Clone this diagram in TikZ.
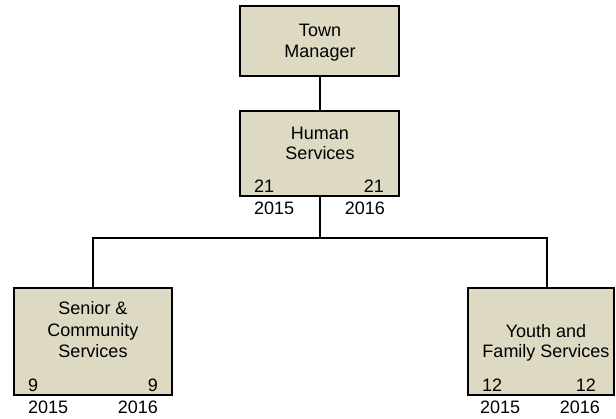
\documentclass[tikz,border=0pt]{standalone}
\usepackage{fontspec}
\setmainfont{Liberation Sans}
\definecolor{boxfill}{RGB}{221,217,195}
\begin{document}
\begin{tikzpicture}[x=1pt,y=-1pt,
  orgbox/.style={draw=black,line width=2pt,fill=boxfill,rectangle,inner sep=0pt},
  conn/.style={draw=black,line width=2pt},
  lbl/.style={inner sep=0pt,font=\fontsize{18}{20}\selectfont}]
\useasboundingbox (0,0) rectangle (616,419);
% connectors
\coordinate (j) at (320,238);
\coordinate (yt) at (547,288);
\coordinate (st) at (93,288);
% boxes
\node[orgbox,minimum width=159pt,minimum height=70pt] (town) at (319.5,41) {};
\node[orgbox,minimum width=159pt,minimum height=85pt] (human) at (319.5,153.5) {};
\node[orgbox,minimum width=158pt,minimum height=107pt] (senior) at (93,341.5) {};
\node[orgbox,minimum width=146pt,minimum height=107pt] (youth) at (541,341.5) {};
\draw[conn] (town.south -| j) -- (human.north -| j);
\draw[conn] (human.south -| j) -- (j);
\draw[conn] (st) |- (j) -| (yt);
% Town Manager
\node[lbl,anchor=base] (t1) at (320,37) {Town};
\node[lbl,anchor=base] (t2) at (320,58) {Manager};
% Human Services
\node[lbl,anchor=base] (h1) at (320,140) {Human};
\node[lbl,anchor=base] (h2) at (320,160) {Services};
\node[lbl,anchor=base west] (h3) at (254,193) {21};
\node[lbl,anchor=base east] (h4) at (384,193) {21};
\node[lbl,anchor=base west] (h5) at (254,215) {2015};
\node[lbl,anchor=base east] (h6) at (385,215) {2016};
% Senior
\node[lbl,anchor=base] (s1) at (93,315) {Senior \&};
\node[lbl,anchor=base] (s2) at (93,337) {Community};
\node[lbl,anchor=base] (s3) at (93,358) {Services};
\node[lbl,anchor=base west] (s4) at (28,392) {9};
\node[lbl,anchor=base east] (s5) at (158,392) {9};
\node[lbl,anchor=base west] (s6) at (28,414) {2015};
\node[lbl,anchor=base east] (s7) at (158,414) {2016};
% Youth
\node[lbl,anchor=base] (y1) at (546,338) {Youth and};
\node[lbl,anchor=base] (y2) at (546,358) {Family Services};
\node[lbl,anchor=base west] (y3) at (482,392) {12};
\node[lbl,anchor=base east] (y4) at (596,392) {12};
\node[lbl,anchor=base west] (y5) at (480,414) {2015};
\node[lbl,anchor=base east] (y6) at (600,414) {2016};
\end{tikzpicture}
\end{document}
